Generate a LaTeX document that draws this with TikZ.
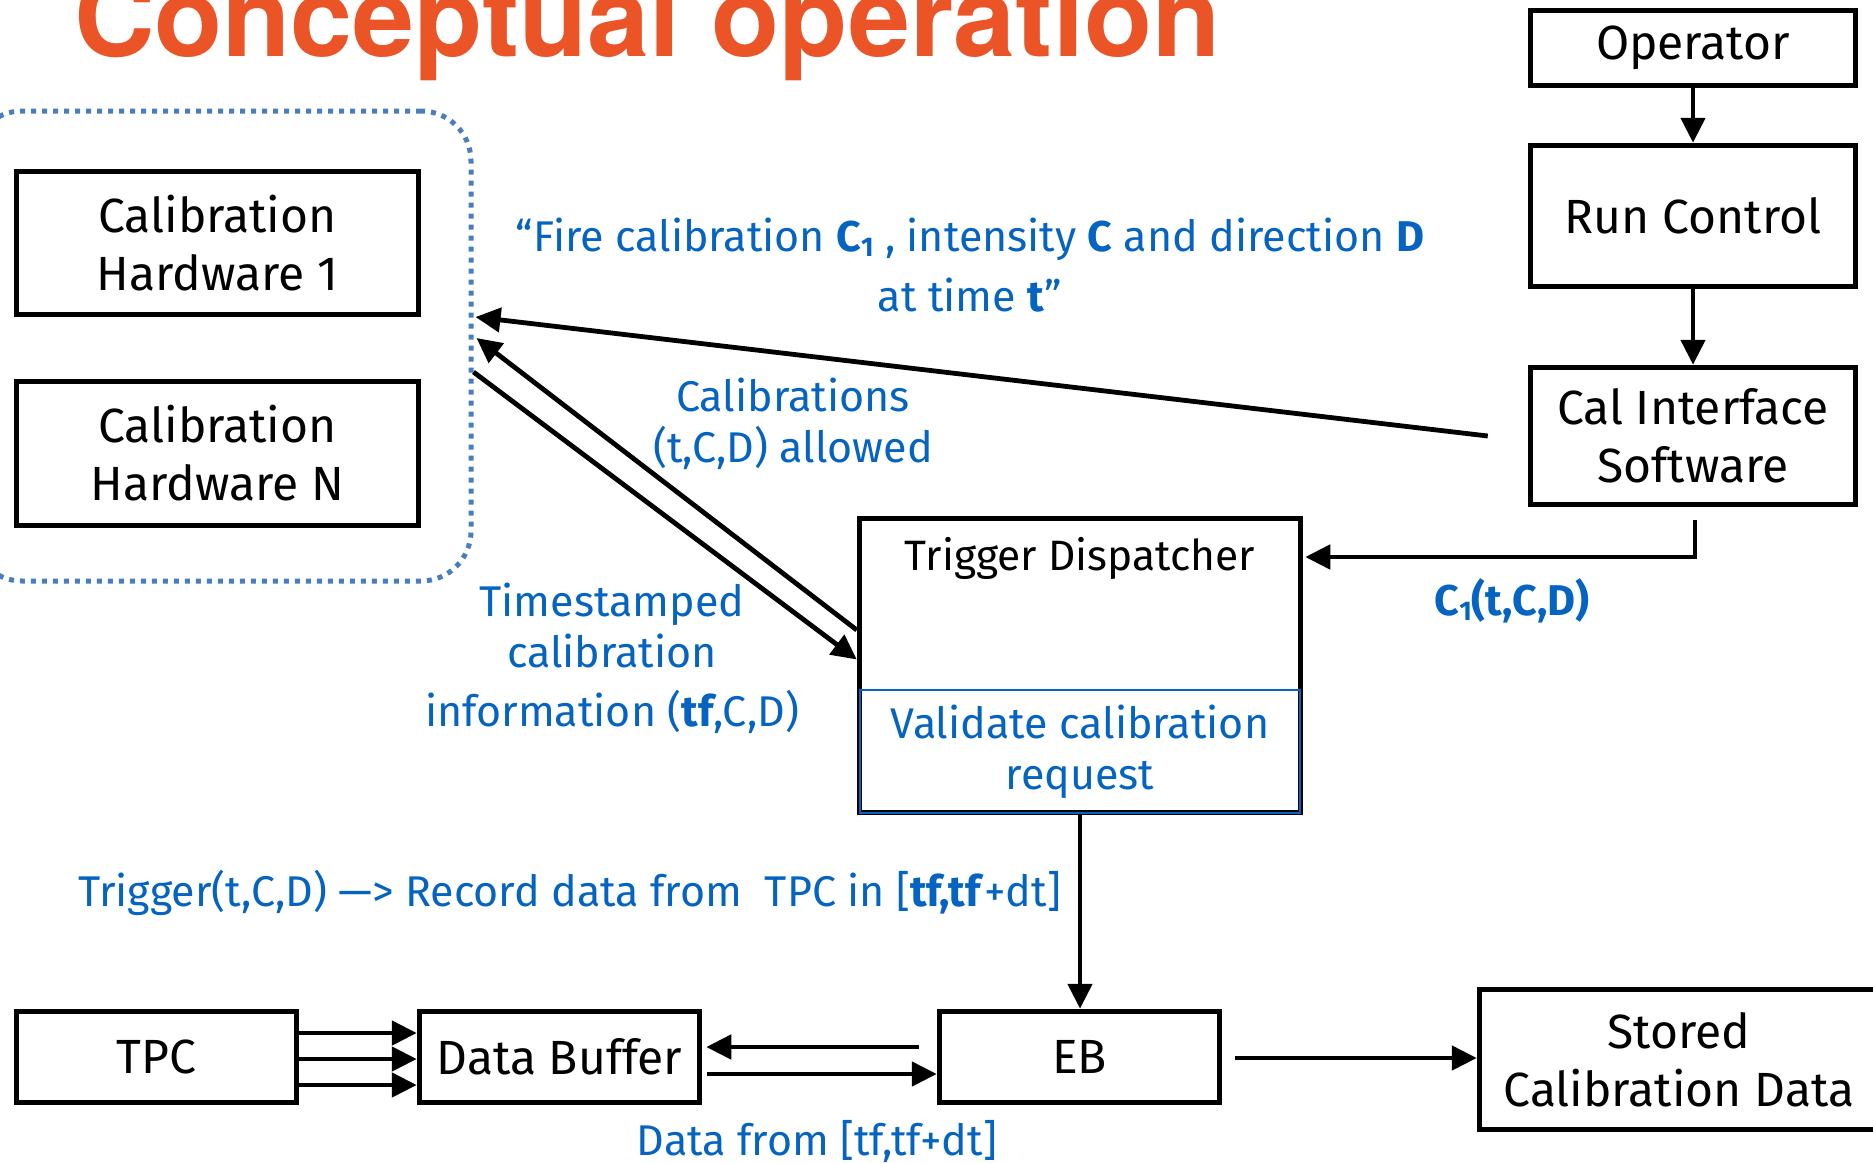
\documentclass[tikz,border=0pt]{standalone}
\usepackage{fontspec}
\setmainfont{Fira Sans}
\newfontfamily\titlefont{TeX Gyre Heros}
\usetikzlibrary{arrows.meta,calc}
\definecolor{lblue}{RGB}{5,99,193}
\definecolor{dotblue}{RGB}{72,126,192}
\definecolor{titleor}{RGB}{234,84,38}
\newcommand\bxfont{\fontsize{48}{58}\selectfont}
\newcommand\tdfont{\fontsize{42.5}{50}\selectfont}
\newcommand\lbfont{\fontsize{43}{51}\selectfont}
\newcommand\sbone{\raisebox{-0.12em}{\fontsize{27}{27}\selectfont 1}}
\begin{document}
\begin{tikzpicture}[x=1pt,y=-1pt,
  box/.style={draw=black,line width=5pt,inner sep=0pt,align=center,font=\bxfont,text=black},
  lbl/.style={text=lblue,align=center,font=\lbfont,inner sep=0pt},
  arr/.style={line width=4.8pt,-{Triangle[length=25pt,width=24pt]}},
  grpbox/.style={draw=dotblue,line width=5pt,dash pattern=on 5pt off 6pt,rounded corners=50pt,inner sep=0pt}]
\useasboundingbox (0,0) rectangle (1873,1162);

% title
\node[anchor=base west,inner sep=0pt,text=titleor,font=\titlefont\bfseries\fontsize{111.5}{111.5}\selectfont] (title) at (74,56) {Conceptual operation};

% calibration hardware group
\node[grpbox,minimum width=499pt,minimum height=470pt] (grp) at (221.5,346) {};
\node[box,minimum width=402.5pt,minimum height=143.5pt] (hw1) at (217.5,243) {Calibration\\Hardware 1};
\node[box,minimum width=402.5pt,minimum height=144.5pt] (hwN) at (217.5,453.5) {Calibration\\Hardware N};

% right column
\node[box,minimum width=325.5pt,minimum height=75.5pt] (op) at (1693,48) {Operator};
\node[box,minimum width=325.5pt,minimum height=141.5pt] (rc) at (1693,216) {Run Control};
\node[box,minimum width=325.5pt,minimum height=137.5pt] (cal) at (1693,436) {Cal Interface\\Software};

% trigger dispatcher
\node[box,minimum width=441.5pt,minimum height=294.5pt] (td) at (1080,665.5) {};
\node[inner sep=0pt,font=\tdfont] (tdt) at (1080,558) {Trigger Dispatcher};
\node[draw=lblue,line width=2.5pt,minimum width=440pt,minimum height=123pt,lbl] (val) at (1080,751.5) {Validate calibration\\request};

% bottom row
\node[box,minimum width=280.5pt,minimum height=91.5pt] (tpc) at (156.5,1057) {TPC};
\node[box,minimum width=280.5pt,minimum height=91.5pt] (db) at (559.5,1057) {Data Buffer};
\node[box,minimum width=280.5pt,minimum height=91.5pt] (eb) at (1079.5,1057) {EB};
\node[box,minimum width=399.5pt,minimum height=140.5pt] (stored) at (1679,1059.5) {Stored\\Calibration Data};

% connectors
\draw[arr] (op.south) -- (rc.north);
\draw[arr] (rc.south) -- (cal.north);
\coordinate (calS) at ($(cal.south)+(2,13)$);
\coordinate (tdR) at ($(td.east)+(2,-108.5)$);
\draw[arr] (calS) |- (tdR);
\coordinate (calL) at ($(cal.west)+(-40,0)$);
\coordinate (g1) at ($(grp.east)+(2,-29)$);
\draw[arr] (calL) -- (g1);
\coordinate (tdA) at ($(td.west)+(0,-35.5)$);
\coordinate (g2) at ($(grp.east)+(3,-8)$);
\draw[arr] (tdA) -- (g2);
\coordinate (g3) at ($(grp.east)+(0,26)$);
\coordinate (tdB) at ($(td.west)+(0,-6)$);
\draw[arr] (g3) -- (tdB);
\draw[arr] (td.south) -- (td.south |- eb.north);
\foreach \dy in {-24,2,28} \draw[arr] ($(tpc.east)+(0,\dy)$) -- ($(db.west)+(0,\dy)$);
\coordinate (ebL) at ($(eb.west)+(-18,-10)$);
\draw[arr] (ebL) -- ($(db.east)+(4,-10)$);
\draw[arr] ($(db.east)+(5,17)$) -- ($(eb.west)+(0,17)$);
\draw[arr] ($(eb.east)+(13,1)$) -- ($(stored.west)+(0,-1.5)$);

% labels
\node[lbl] (fire) at (970,265) {“Fire calibration \textbf{C\sbone} , intensity \textbf{C} and direction \textbf{D}\\[9pt]at time \textbf{t}”};
\node[lbl] (allowed) at (793,424) {Calibrations\\(t,C,D) allowed};
\node[lbl] (stamped) at (612,658) {Timestamped\\calibration\\[8pt]information (\textbf{tf},C,D)};
\node[lbl] (c1) at (1512,601) {\textbf{C\sbone(t,C,D)}};
\node[lbl,anchor=west] (trig) at (78,893) {Trigger(t,C,D) —> Record data from~ TPC in [\textbf{tf,tf}+dt]};
\node[lbl] (datafrom) at (817,1142) {Data from [tf,tf+dt]};
\end{tikzpicture}
\end{document}
